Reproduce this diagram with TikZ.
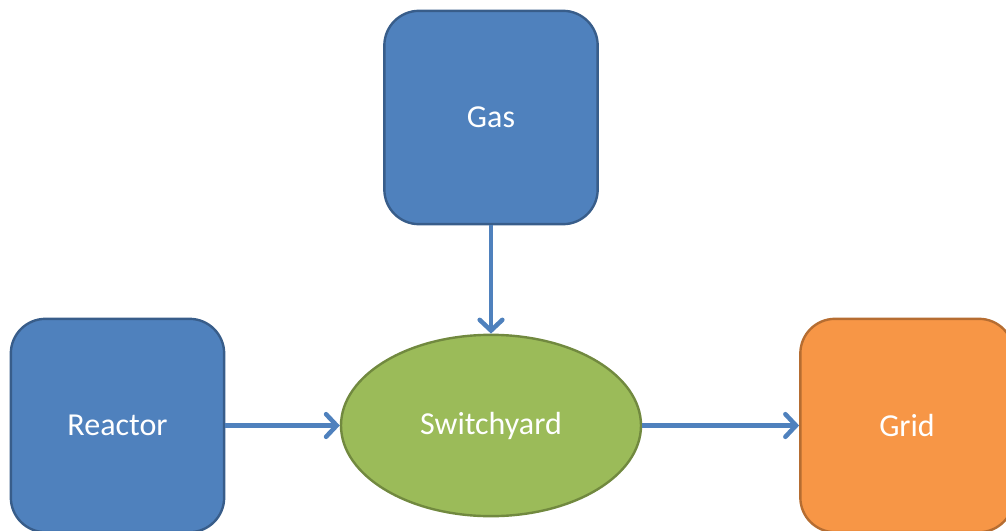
\documentclass[tikz,border=0pt]{standalone}
\usepackage{fontspec}
\setmainfont{Carlito}
\usepackage{tikz}
\usetikzlibrary{shapes.geometric}
\usetikzlibrary{arrows.meta}

\definecolor{boxblue}{HTML}{4F81BD}
\definecolor{lineblue}{HTML}{385D8A}
\definecolor{boxgreen}{HTML}{9BBB59}
\definecolor{linegreen}{HTML}{71893F}
\definecolor{boxorange}{HTML}{F79646}
\definecolor{lineorange}{HTML}{B66D31}

\tikzset{%
  plant/.style={rectangle, rounded corners=26pt, line width=1.8pt,
    minimum width=160pt, minimum height=160pt, text=white,
    font=\fontsize{24}{28}\selectfont},
  yard/.style={ellipse, line width=1.8pt, minimum width=225pt,
    minimum height=136pt, text=white, fill=boxgreen, draw=linegreen,
    font=\fontsize{24}{28}\selectfont},
  feed/.style={->, draw=boxblue, line width=3.4pt}
}

\begin{document}
\begin{tikzpicture}[%
  >={Straight Barb[length=8pt,width=17pt,line cap=round]},
  x=0.75pt, y=-0.75pt
]

  \useasboundingbox (0,0) rectangle (1006,531);
  \clip (0,0) rectangle (1006,531);

  \node[plant, fill=boxblue, draw=lineblue] (gas) at (491,117.5) {Gas};
  \node[plant, fill=boxblue, draw=lineblue] (reactor) at (117.5,425.5) {Reactor};
  \node[plant, fill=boxorange, draw=lineorange] (grid) at (907,425.5) {Grid};
  \node[yard] (switchyard) at (491,425.5) {Switchyard};

  \draw[feed] (gas) -- (switchyard);
  \draw[feed] (reactor) -- (switchyard);
  \draw[feed] (switchyard) -- (grid);

\end{tikzpicture}
\end{document}
